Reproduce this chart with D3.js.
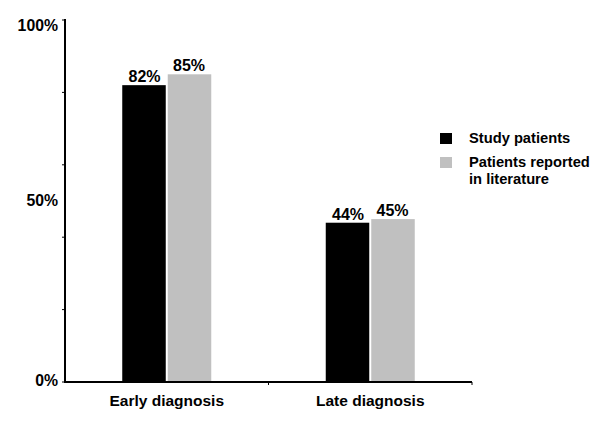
<!DOCTYPE html>
<html><head><meta charset="utf-8">
<script src="https://cdn.jsdelivr.net/npm/d3@7"></script>
<style>body{margin:0;background:#fff;} text{font-family:"Liberation Sans",Arial,sans-serif;font-weight:bold;fill:#000;}</style>
</head><body><svg id="c" width="600" height="428"></svg>
<script>
const categories = ["Early diagnosis", "Late diagnosis"];
const seriesNames = ["Study patients", "Patients reported in literature"];
const studyValues = [82, 44];
const literatureValues = [85, 45];
const yTickValues = [0, 20, 40, 60, 80, 100];
const yLabelValues = [0, 50, 100];
const colors = ["#000000", "#c0c0c0"];

const svg = d3.select("#c");
const x0 = d3.scaleBand().domain(categories).range([65, 472]).paddingInner(0).paddingOuter(0);
const x1 = d3.scaleBand().domain([0,1]).range([0, 89]).padding(0);
const y = d3.scaleLinear().domain([0, 100]).range([382, 20]);

const data = categories.map((c,i)=>({cat:c, vals:[studyValues[i], literatureValues[i]]}));
const g = svg.append("g");
data.forEach(d=>{
  const gx = x0(d.cat) + x0.bandwidth()/2 - 44.5;
  d.vals.forEach((v,j)=>{
    g.append("rect").attr("x", gx + x1(j) + (j===1?1:0)).attr("y", y(v))
      .attr("width", x1.bandwidth() - 1).attr("height", y(0)-y(v)).attr("fill", colors[j]);
    g.append("text").attr("x", gx + x1(j) + x1.bandwidth()/2).attr("y", y(v)-3)
      .attr("text-anchor","middle").attr("font-size",16).text(v+"%");
  });
});

// y axis
const ya = svg.append("g");
ya.append("line").attr("x1",65).attr("x2",65).attr("y1",y(100)-1).attr("y2",y(0)+1).attr("stroke","#000").attr("stroke-width",2);
yTickValues.forEach(t=>{
  ya.append("line").attr("x1",62).attr("x2",65).attr("y1",y(t)).attr("y2",y(t)).attr("stroke","#000").attr("stroke-width",1);
});
const yOff = {0:4, 50:5, 100:11};
yLabelValues.forEach(t=>{
  ya.append("text").attr("x",58).attr("y",y(t)+yOff[t]).attr("text-anchor","end").attr("font-size",15.8).text(t+"%");
});

// x axis
const xa = svg.append("g");
xa.append("line").attr("x1",64).attr("x2",472).attr("y1",382).attr("y2",382).attr("stroke","#000").attr("stroke-width",2);
[x0(categories[1]), 472].forEach(t=>{
  xa.append("line").attr("x1",t).attr("x2",t).attr("y1",382).attr("y2",385).attr("stroke","#000").attr("stroke-width",1);
});
categories.forEach(c=>{
  xa.append("text").attr("x", x0(c)+x0.bandwidth()/2).attr("y",406).attr("text-anchor","middle").attr("font-size",15.5).text(c);
});

// legend
const lg = svg.append("g");
lg.append("rect").attr("x",440).attr("y",133).attr("width",12).attr("height",11).attr("fill",colors[0]);
lg.append("text").attr("x",469).attr("y",143).attr("font-size",14.7).text(seriesNames[0]);
lg.append("rect").attr("x",440).attr("y",157).attr("width",12).attr("height",11).attr("fill",colors[1]);
lg.append("text").attr("x",469).attr("y",167).attr("font-size",14.7).text("Patients reported");
lg.append("text").attr("x",469).attr("y",184).attr("font-size",14.7).text("in literature");
</script></body></html>
